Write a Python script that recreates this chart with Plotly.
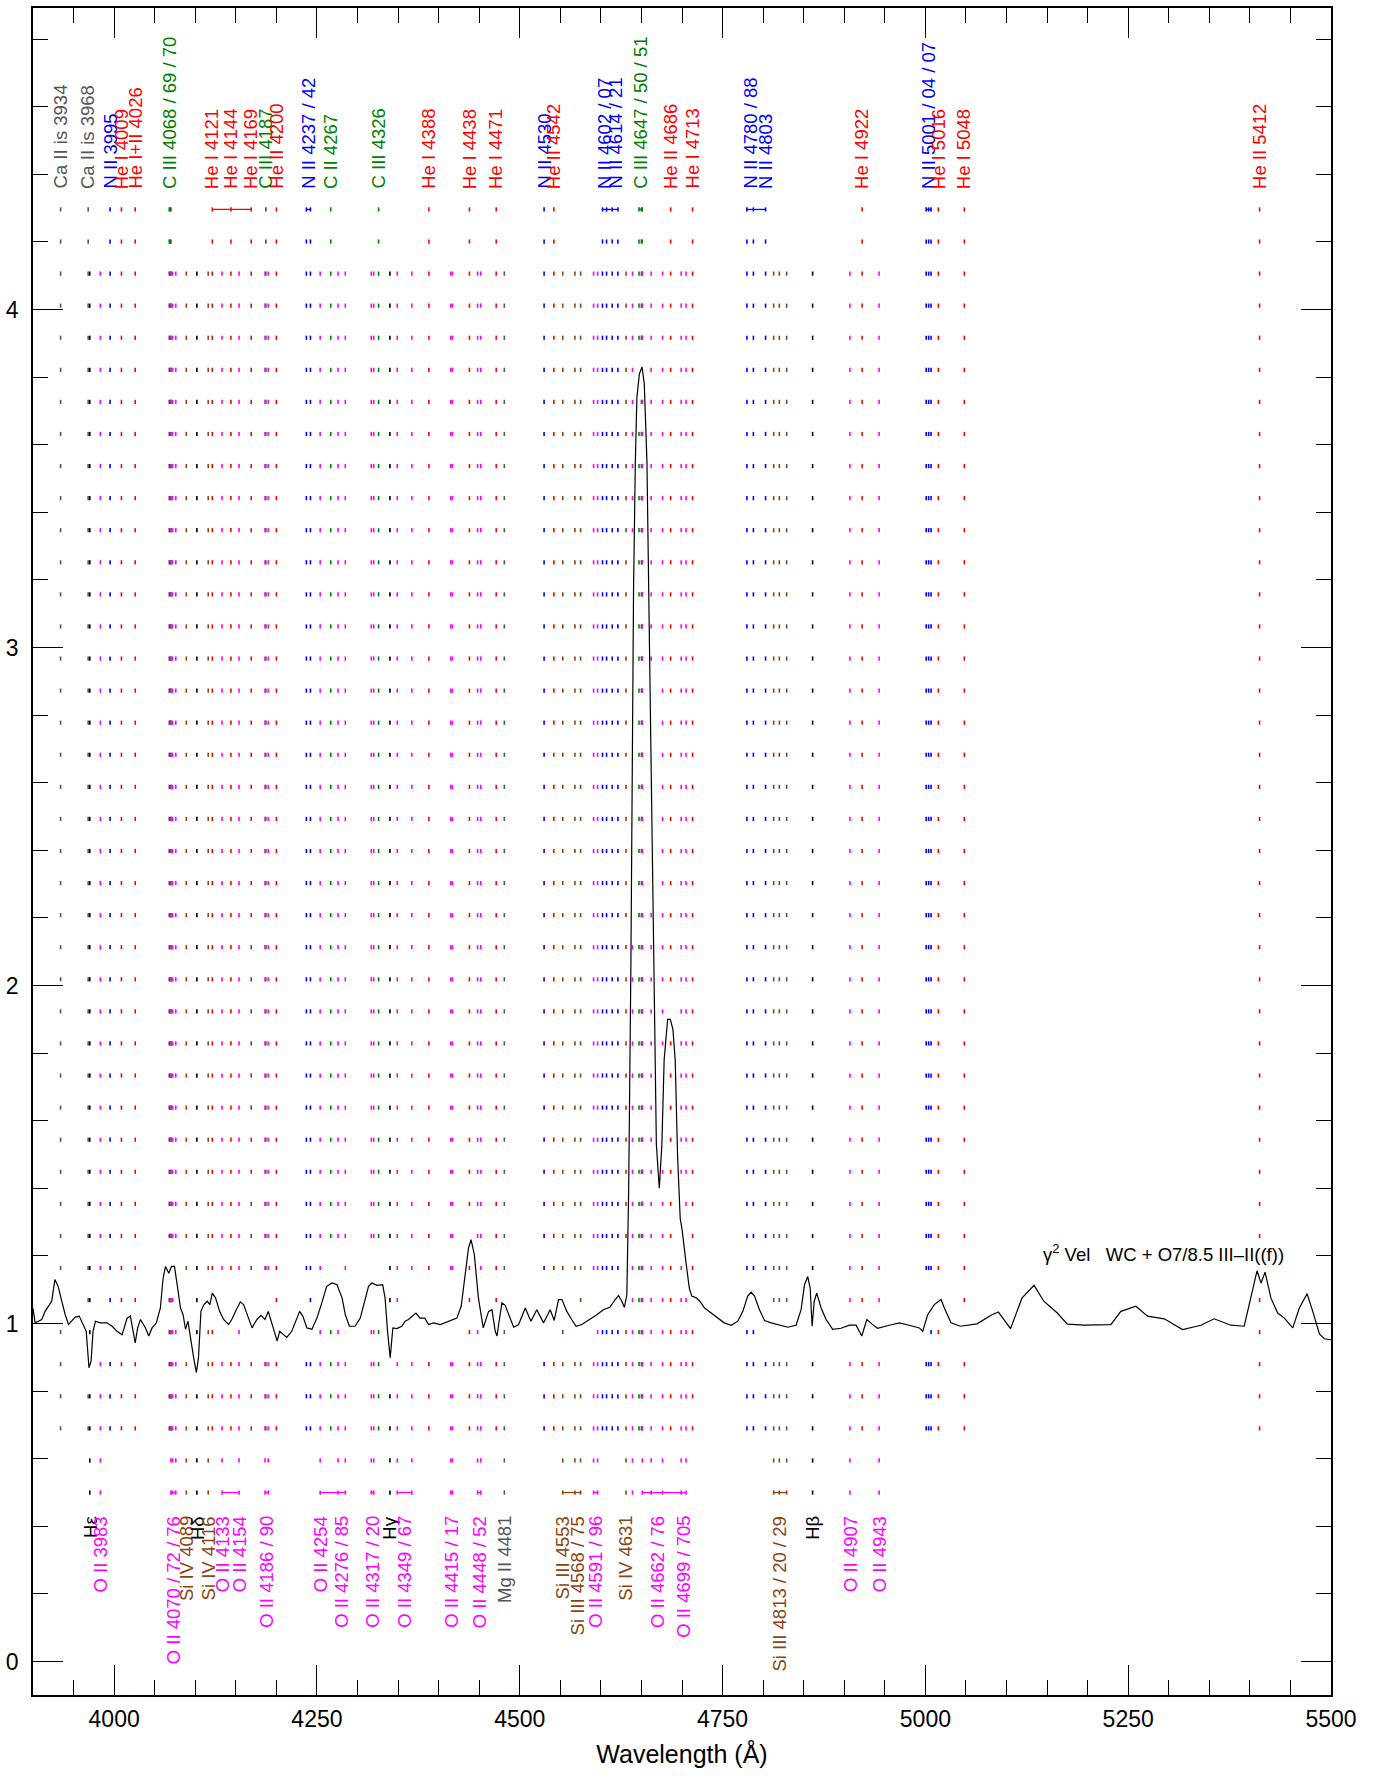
import numpy as np
import plotly.graph_objects as go

# ---------------- spectrum ----------------
WAVE = [3900, 3902.6, 3906.7, 3910.8, 3914.9, 3919, 3923, 3927, 3931, 3935, 3939.7, 3943.8, 3948, 3952,
        3957, 3961, 3965.6, 3969, 3971.6, 3974, 3977, 3983, 3991, 3997.5, 4003.6, 4009.8, 4016, 4020,
        4023, 4026, 4029, 4032.5, 4038.6, 4042.7, 4046.8, 4052, 4057, 4060.4, 4063.3, 4067.4, 4070.7,
        4074.4, 4077.7, 4081.8, 4085, 4088, 4091, 4094, 4098, 4101.4, 4104, 4107, 4110.6, 4114.7, 4118,
        4121, 4125, 4130, 4135, 4141, 4145, 4150.6, 4155.5, 4159.6, 4163.7, 4170, 4176, 4181, 4186,
        4190, 4193, 4198.5, 4201, 4204, 4208.8, 4212.8, 4219, 4225, 4228.6, 4232.6, 4237.6, 4243.8,
        4250, 4256, 4262, 4268.6, 4274.7, 4281, 4285, 4290, 4297, 4303.4, 4307.5, 4313.6, 4317.7, 4324,
        4331, 4334, 4337, 4340.3, 4343.6, 4348.5, 4354.6, 4358.7, 4362.8, 4372, 4377, 4383, 4387.6,
        4393.7, 4402, 4408, 4416.4, 4422.5, 4427.8, 4432.7, 4436.8, 4440, 4444, 4449, 4455, 4461.6,
        4465.7, 4469.8, 4472, 4474, 4478, 4482, 4486, 4492.5, 4498.6, 4506.8, 4513.8, 4521, 4529.4,
        4537.6, 4542.5, 4547.8, 4552, 4558, 4564, 4569.5, 4576.5, 4584.7, 4595, 4603, 4611, 4617.7,
        4621.7, 4625.8, 4629, 4632, 4634.3, 4637, 4638.7, 4640.3, 4642.5, 4644.4, 4647.5, 4650.8,
        4653.5, 4656.8, 4660, 4663, 4666, 4668.4, 4672, 4675.2, 4678, 4682.3, 4685.6, 4688.8, 4691.6,
        4694.5, 4697.8, 4700, 4705, 4709, 4712, 4717.5, 4722, 4727.8, 4736, 4744, 4752, 4760.6, 4768.8,
        4775, 4781, 4785.3, 4789.4, 4795.5, 4801.7, 4810, 4820, 4830.4, 4840.6, 4846.8, 4851, 4855,
        4858, 4860.4, 4863, 4866, 4871.5, 4877.6, 4885.8, 4896, 4906.4, 4914.6, 4921.6, 4927.8, 4934,
        4941, 4955.6, 4968, 4980, 4992.6, 4996.7, 5002.8, 5011, 5019.3, 5023.4, 5031.6, 5043, 5063.6,
        5082, 5090, 5105, 5119, 5134, 5146, 5162.6, 5175, 5195.6, 5216, 5228.6, 5241, 5259.5, 5273.8,
        5294.4, 5317, 5339.6, 5356, 5376.6, 5393, 5399.4, 5408.8, 5413.8, 5418.7, 5426, 5434.3, 5442.5,
        5452.8, 5461, 5470.5, 5477.5, 5485.7, 5491.9, 5500]
FLUX = [1.045, 1.002, 1.007, 1.012, 1.036, 1.051, 1.066, 1.130, 1.110, 1.071, 1.026, 0.997, 1.007, 1.019,
        1.022, 1.002, 0.977, 0.869, 0.889, 0.977, 1.007, 1.002, 1.002, 0.992, 0.977, 0.967, 1.016, 1.022,
        0.987, 0.943, 0.987, 1.012, 0.987, 0.963, 0.987, 1.002, 1.046, 1.134, 1.169, 1.149, 1.169,
        1.169, 1.115, 1.046, 1.026, 0.983, 1.007, 0.958, 0.899, 0.855, 0.899, 1.036, 1.056, 1.066, 1.056,
        1.090, 1.076, 1.036, 1.012, 0.997, 1.012, 1.041, 1.064, 1.056, 1.026, 0.987, 1.012, 1.024, 1.012,
        1.036, 1.012, 0.967, 0.948, 0.977, 0.967, 0.959, 0.977, 1.016, 1.036, 1.022, 0.987, 0.983,
        1.016, 1.061, 1.110, 1.120, 1.115, 1.076, 1.026, 0.992, 0.992, 1.016, 1.056, 1.110, 1.120, 1.113,
        1.115, 1.076, 0.977, 0.899, 0.987, 0.985, 0.992, 1.007, 1.012, 1.031, 1.016, 1.016, 0.997,
        1.002, 0.997, 1.002, 1.009, 1.016, 1.051, 1.144, 1.223, 1.248, 1.204, 1.076, 0.987, 1.036,
        1.041, 0.977, 0.963, 0.997, 1.061, 1.054, 1.031, 0.989, 0.997, 1.046, 1.007, 1.041, 1.002,
        1.041, 1.009, 1.071, 1.071, 1.036, 1.012, 0.992, 0.997, 1.009, 1.026, 1.041, 1.048, 1.071,
        1.083, 1.066, 1.048, 1.085, 1.40, 2.06, 2.62, 3.18, 3.55, 3.74, 3.81, 3.83,
        3.78, 3.55, 2.99, 2.43, 1.87, 1.53, 1.40, 1.53, 1.78, 1.90, 1.90, 1.87, 1.78,
        1.50, 1.31, 1.28, 1.179, 1.105, 1.081, 1.076, 1.066, 1.046, 1.031, 1.017, 1.002, 0.995, 1.007,
        1.036, 1.081, 1.093, 1.081, 1.041, 1.009, 1.002, 0.995, 0.989, 0.995, 1.041, 1.115, 1.139,
        1.105, 0.992, 1.066, 1.090, 1.046, 1.012, 0.983, 0.986, 0.995, 0.995, 0.963, 1.012, 0.999,
        0.986, 0.995, 1.002, 0.995, 0.987, 0.977, 1.026, 1.056, 1.071, 1.046, 1.002, 0.992, 0.999,
        1.026, 1.034, 0.985, 1.075, 1.113, 1.066, 1.031, 0.998, 0.995, 0.995, 0.997, 1.036, 1.051, 1.022,
        1.014, 0.982, 0.995, 1.014, 0.995, 0.992, 1.056, 1.156, 1.120, 1.152, 1.075, 1.031, 1.016,
        0.987, 1.046, 1.088, 1.036, 0.969, 0.955, 0.952]

# ---------------- line identifications ----------------
TOP_LABELS = ["Ca II is 3934", "Ca II is 3968", "N II 3995", "He I 4009", "He I+II 4026",
              "C III 4068 / 69 / 70", "He I 4121", "He I 4144", "He I 4169", "C III 4187", "He II 4200",
              "N II 4237 / 42", "C II 4267", "C III 4326", "He I 4388", "He I 4438", "He I 4471",
              "N II 4530", "He II 4542", "N II 4602 / 07", "N II 4614 / 21", "C III 4647 / 50 / 51",
              "He II 4686", "He I 4713", "N II 4780 / 88", "N II 4803", "He I 4922", "N II 5001 / 04 / 07",
              "He I 5016", "He I 5048", "He II 5412"]
TOP_WAVES = [[3934], [3968], [3995], [4009], [4026], [4068, 4069, 4070], [4121], [4144], [4169], [4187],
             [4200], [4237, 4242], [4267], [4326], [4388], [4438], [4471], [4530], [4542], [4602, 4607],
             [4614, 4621], [4647, 4650, 4651], [4686], [4713], [4780, 4788], [4803], [4922],
             [5001, 5004, 5007], [5016], [5048], [5412]]

BOTTOM_LABELS = ["Hε", "O II 3983", "O II 4070 / 72 / 76", "Si IV 4089", "Hδ", "Si IV 4116", "O II 4133",
                 "O II 4154", "O II 4186 / 90", "O II 4254", "O II 4276 / 85", "O II 4317 / 20", "Hγ",
                 "O II 4349 / 67", "O II 4415 / 17", "O II 4448 / 52", "Mg II 4481", "Si III 4553",
                 "Si III 4568 / 75", "O II 4591 / 96", "Si IV 4631", "O II 4662 / 76", "O II 4699 / 705",
                 "Si III 4813 / 20 / 29", "Hβ", "O II 4907", "O II 4943"]
BOTTOM_WAVES = [[3970], [3983], [4070, 4072, 4076], [4089], [4102], [4116], [4133], [4154], [4186, 4190],
                [4254], [4276, 4285], [4317, 4320], [4340], [4349, 4367], [4415, 4417], [4448, 4452],
                [4481], [4553], [4568, 4575], [4591, 4596], [4631], [4662, 4676], [4699, 4705],
                [4813, 4820, 4829], [4861], [4907], [4943]]
EXTRA_ION = ["O II", "O II"]
EXTRA_WAVES = [4639, 4651]

TOP_BAR_ION = ["C III", "He I", "N II", "N II", "C III", "N II", "N II"]
TOP_BAR_FROM = [4068, 4121, 4237, 4602, 4647, 4780, 5001]
TOP_BAR_TO = [4070, 4169, 4242, 4621, 4651, 4803, 5007]
BOT_BAR_ION = ["O II", "O II", "O II", "O II", "O II", "O II", "O II", "O II", "Si III", "O II", "O II", "Si III"]
BOT_BAR_FROM = [4070, 4133, 4186, 4254, 4317, 4349, 4415, 4448, 4553, 4591, 4651, 4813]
BOT_BAR_TO = [4076, 4154, 4190, 4285, 4320, 4367, 4417, 4452, 4575, 4596, 4705, 4829]

STAR_NOTE = "γ<sup>2</sup> Vel\u00a0\u00a0\u00a0WC + O7/8.5 III–II((f))"

# ---------------- styling / layout constants ----------------
FONT = "Liberation Sans, Arial, Helvetica, sans-serif"
ROW0, ROWSTEP, NROW = 0.50, 0.0949, 41
TOP_LABEL_Y, BOT_LABEL_Y = 4.354, 0.433
NOTE_X, NOTE_Y = 5143, 1.21


def ion_color(lbl):
    if lbl.startswith("He"):
        return "#ff0000"
    if lbl.startswith("N "):
        return "#0000ff"
    if lbl.startswith("C "):
        return "#008000"
    if lbl.startswith("O "):
        return "#ff00ff"
    if lbl.startswith("Si"):
        return "#8b4513"
    if lbl.startswith("Ca") or lbl.startswith("Mg"):
        return "#555555"
    return "#000000"


rows = ROW0 + ROWSTEP * np.arange(NROW)
wv = np.array(WAVE, float)
fx = np.array(FLUX, float)


def visible_rows(w, rr):
    fine = np.linspace(w - 1.5, w + 1.5, 13)
    fv = np.interp(fine, wv, fx)
    lo, hi = fv.min() - 0.05, fv.max() + 0.068
    return [r for r in rr if r < lo or r > hi]


fig = go.Figure()

# dotted markers for every identified line
dots = {}
def add_dots(lbl, waves, rr):
    c = ion_color(lbl)
    d = dots.setdefault(c, ([], []))
    for w in waves:
        for r in visible_rows(w, rr):
            d[0].append(w)
            d[1].append(r)

for lbl, ws in zip(TOP_LABELS, TOP_WAVES):
    add_dots(lbl, ws, rows[2:])
for lbl, ws in zip(BOTTOM_LABELS, BOTTOM_WAVES):
    add_dots(lbl, ws, rows[:-2])
for lbl, w in zip(EXTRA_ION, EXTRA_WAVES):
    add_dots(lbl, [w], rows[:-2])

for c, (xs, ys) in dots.items():
    fig.add_trace(go.Scatter(x=xs, y=ys, mode="markers", hoverinfo="skip", showlegend=False,
                             marker=dict(symbol="line-ns", size=3, color=c, line=dict(width=1.6, color=c))))

# connecting bars
def add_bars(ions, a, b, yrow):
    for ion, x0, x1 in zip(ions, a, b):
        c = ion_color(ion)
        fig.add_trace(go.Scatter(x=[x0, x1], y=[yrow, yrow], mode="lines", hoverinfo="skip",
                                 showlegend=False, line=dict(color=c, width=1.3)))

add_bars(TOP_BAR_ION, TOP_BAR_FROM, TOP_BAR_TO, rows[-1])
add_bars(BOT_BAR_ION, BOT_BAR_FROM, BOT_BAR_TO, rows[0])

# spectrum
fig.add_trace(go.Scatter(x=WAVE, y=FLUX, mode="lines", line=dict(color="black", width=1.2),
                         hoverinfo="skip", showlegend=False))

# labels
for lbl, ws in zip(TOP_LABELS, TOP_WAVES):
    fig.add_annotation(x=float(np.mean(ws)), y=TOP_LABEL_Y, text=lbl, textangle=-90, showarrow=False,
                       xanchor="center", yanchor="bottom", borderpad=0,
                       font=dict(family=FONT, size=18.5, color=ion_color(lbl)))
for lbl, ws in zip(BOTTOM_LABELS, BOTTOM_WAVES):
    fig.add_annotation(x=float(np.mean(ws)), y=BOT_LABEL_Y, text=lbl, textangle=-90, showarrow=False,
                       xanchor="center", yanchor="top", borderpad=0,
                       font=dict(family=FONT, size=18.5, color=ion_color(lbl)))

fig.add_annotation(x=NOTE_X, y=NOTE_Y, text=STAR_NOTE, showarrow=False, xanchor="left", yanchor="middle",
                   font=dict(family=FONT, size=18.5, color="black"))

axis_common = dict(showline=True, linecolor="black", linewidth=1.5, mirror="ticks", ticks="inside",
                   ticklen=30, tickwidth=1, tickcolor="black", showgrid=False, zeroline=False,
                   tickfont=dict(family=FONT, size=23, color="black"))
fig.update_xaxes(range=[3900, 5500], tick0=4000, dtick=250,
                 minor=dict(dtick=50, ticklen=15, ticks="inside", tickcolor="black", tickwidth=1),
                 title=dict(text="Wavelength (Å)", font=dict(family=FONT, size=25, color="black"), standoff=14),
                 ticklabelstandoff=3, **axis_common)
fig.update_yaxes(range=[-0.099, 4.892], tick0=0, dtick=1,
                 minor=dict(dtick=0.2, ticklen=15, ticks="inside", tickcolor="black", tickwidth=1),
                 ticklabelstandoff=8, **axis_common)

fig.update_layout(width=1380, height=1778, margin=dict(l=32, r=49, t=6, b=83),
                  plot_bgcolor="white", paper_bgcolor="white", font=dict(family=FONT))

fig.write_html("out.html")
